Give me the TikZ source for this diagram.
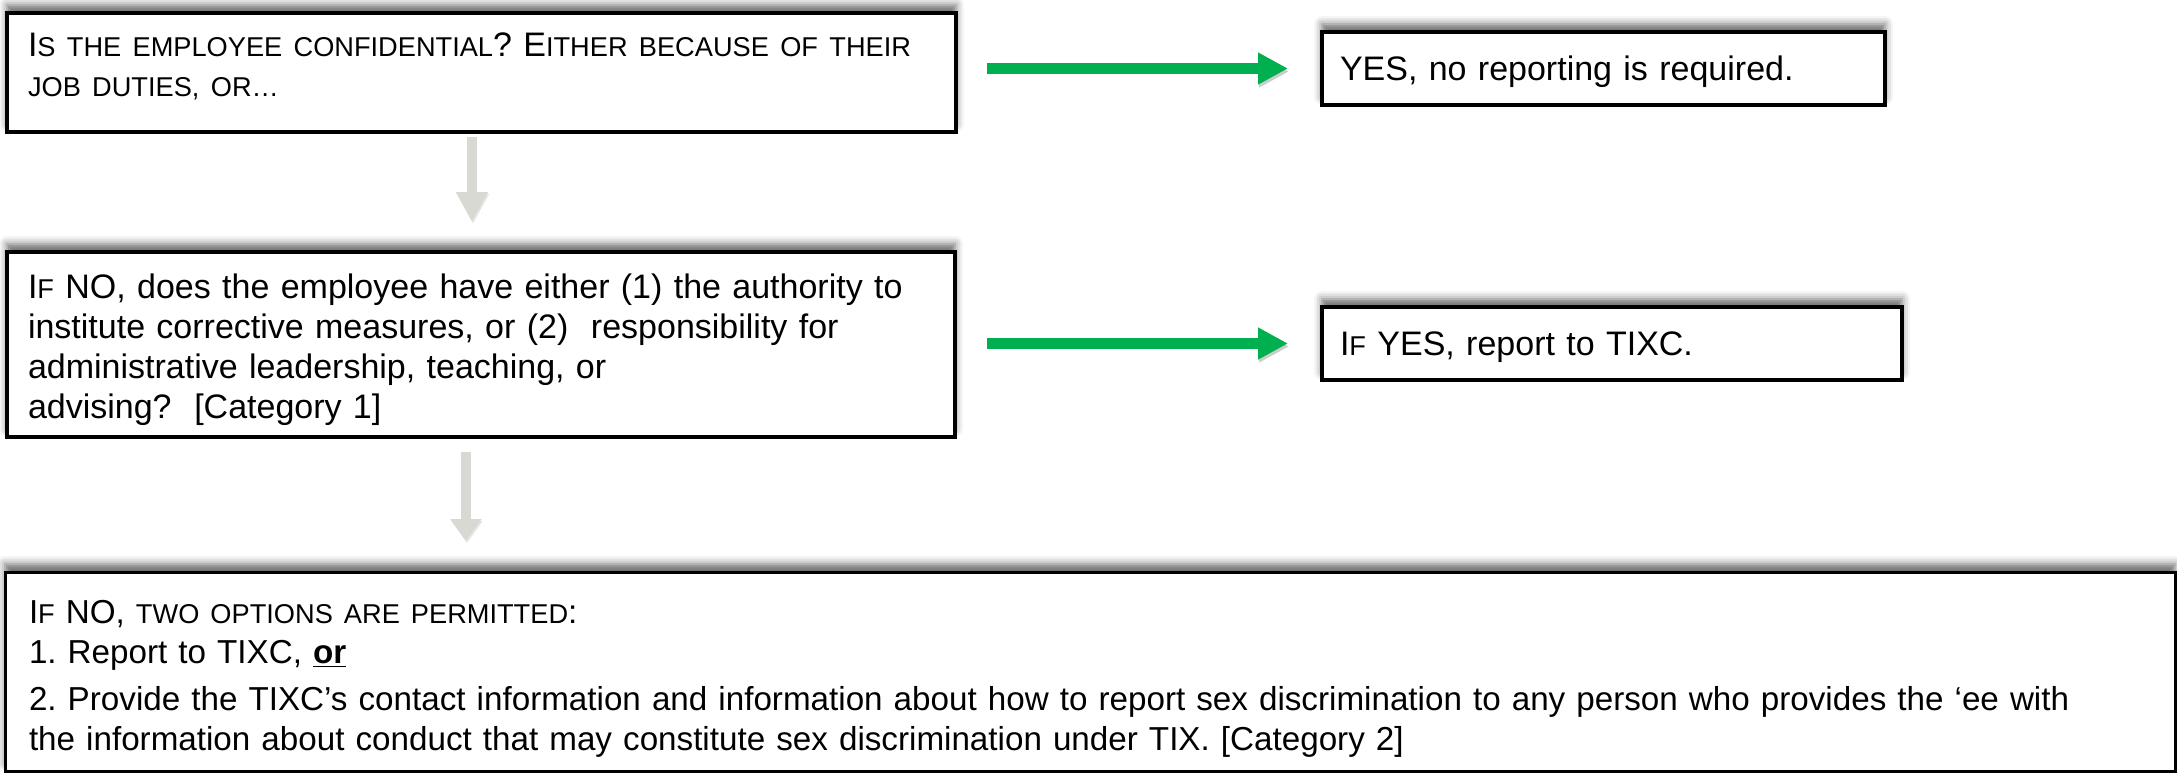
\documentclass[tikz,border=0pt]{standalone}
\usepackage{fontspec}
\setmainfont{Liberation Sans}
\usetikzlibrary{arrows.meta, shadows.blur}
\definecolor{yesgreen}{RGB}{0,176,80}
\definecolor{flowgray}{RGB}{217,217,212}
% small caps as PowerPoint fakes them
\newcommand{\sm}[1]{{\fontsize{13.6}{20}\selectfont #1}}

\begin{document}
\begin{tikzpicture}[
    x=0.5pt, y=-0.5pt,
    box/.style={draw=black, line width=2pt, fill=white, anchor=north west, align=left,
        inner xsep=10.5pt, inner ysep=0pt, outer sep=0pt,
        font=\fontsize{17}{20}\selectfont\frenchspacing,
        blur shadow={shadow xshift=0pt, shadow yshift=4pt, shadow blur radius=4pt, shadow opacity=60}},
    yesarrow/.style={-{Triangle[length=15pt, width=15pt]}, line width=5.5pt, yesgreen,
        preaction={draw=black, opacity=0.2, transform canvas={xshift=0.5pt, yshift=-1.5pt}}},
    downarrow/.style={-{Triangle[length=15pt, width=15pt]}, line width=5pt, flowgray,
        preaction={draw=black, opacity=0.1, transform canvas={xshift=0.5pt, yshift=-1pt}}}
    ]
    \useasboundingbox (0,0) rectangle (2177,773);

    % Fragen links
    \node[box, text width=453.5pt, text height=21.75pt, text depth=37.75pt] (confid) at (7,13)
        {I\sm{S THE EMPLOYEE CONFIDENTIAL}? E\sm{ITHER BECAUSE OF THEIR}\\
         \sm{JOB DUTIES, OR…}};
    \node[box, text width=453pt, text height=23pt, text depth=69.5pt] (authority) at (7,252)
        {I\sm{F} NO, does the employee have either (1) the authority to\\
         institute corrective measures, or (2)\ \ responsibility for\\
         administrative leadership, teaching, or\\
         advising?\ \ [Category 1]};

    % Antworten rechts
    \node[box, inner xsep=9pt, text width=263.5pt, text height=24.25pt, text depth=12.25pt] (noreport) at (1322,32)
        {YES, no reporting is required.};
    \node[box, inner xsep=9pt, text width=272pt, text height=24.25pt, text depth=12.25pt] (report) at (1322,307)
        {I\sm{F} YES, report to TIXC.};

    % Zwei Optionen unten
    \node[box, line width=1.5pt, inner xsep=12pt, text width=1061pt, text height=25.75pt, text depth=73.75pt,
          font=\fontsize{16.6}{20}\selectfont\frenchspacing] (options) at (5,572)
        {I\sm{F} NO, \sm{TWO OPTIONS ARE PERMITTED}:\\
         1. Report to TIXC, \textbf{\underline{or}}\\[3.5pt]
         2. Provide the TIXC’s contact information and information about how to report sex discrimination to any person who provides the ‘ee with\\
         the information about conduct that may constitute sex discrimination under TIX. [Category 2]};

    % Pfeile
    \draw[yesarrow, shorten <=15.5pt, shorten >=17pt] (confid.east |- noreport.west) -- (noreport.west);
    \draw[yesarrow, shorten <=16pt, shorten >=17pt] (authority.east |- report.west) -- (report.west);
    \draw[downarrow, shorten <=2.5pt, shorten >=15pt] ([xshift=-4.75pt]confid.south) -- ([xshift=-4.5pt]authority.north);
    \draw[downarrow, -{Triangle[length=11pt, width=15pt]}, shorten <=7.5pt, shorten >=15.5pt]
        ([xshift=-7.5pt]authority.south) -- ([xshift=-312pt]options.north);

\end{tikzpicture}
\end{document}
